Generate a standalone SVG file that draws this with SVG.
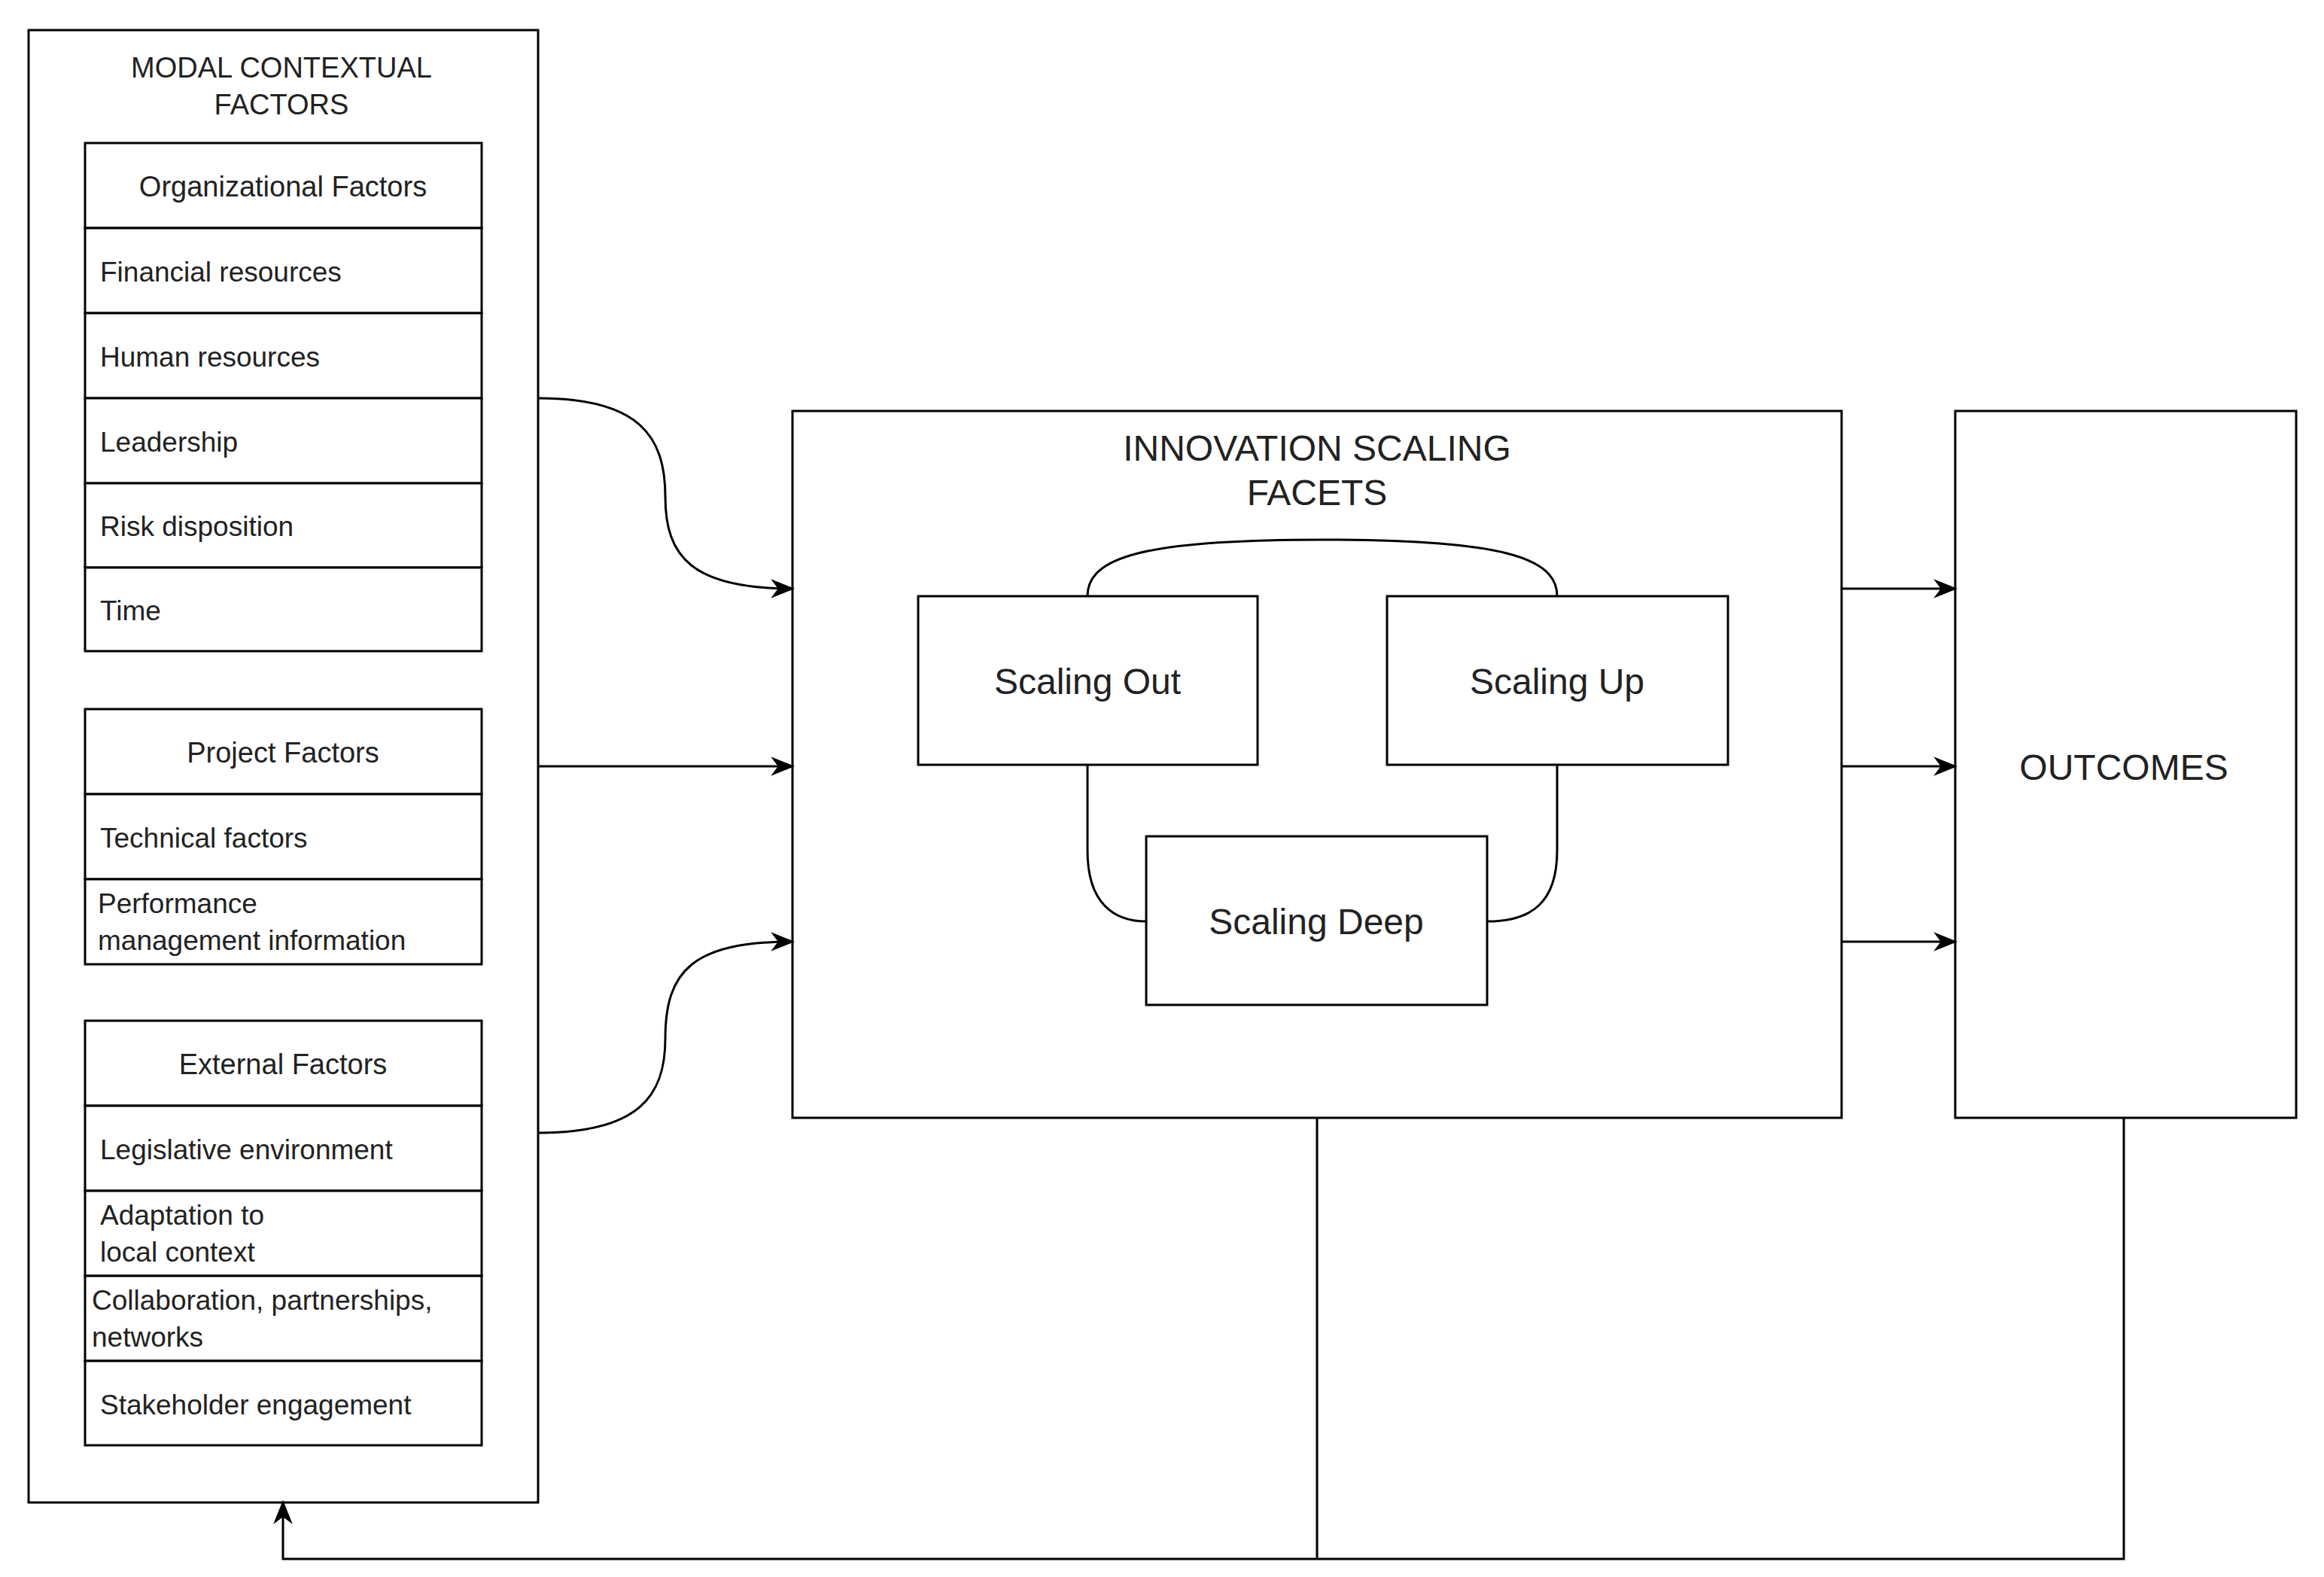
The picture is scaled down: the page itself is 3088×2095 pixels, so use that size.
<svg xmlns="http://www.w3.org/2000/svg" width="3088" height="2095" viewBox="0 0 3088 2095">
<style>
rect{fill:#fff;stroke:#000;stroke-width:3}
.c{fill:none;stroke:#000;stroke-width:3}
text{font-family:"Liberation Sans",Arial,sans-serif;fill:#222}
.s{font-size:37px}
.m{font-size:38px;text-anchor:middle}
.l{font-size:48px;text-anchor:middle}
</style>
<defs><marker id="a" viewBox="0 0 10 10" refX="9" refY="5" markerWidth="10" markerHeight="10" markerUnits="userSpaceOnUse" orient="auto"><path d="M0,0L10,5L0,10L3,5Z" fill="#000" transform="scale(1)"/></marker>
<marker id="b" viewBox="0 0 10 10" refX="9" refY="5" markerWidth="32" markerHeight="32" markerUnits="userSpaceOnUse" orient="auto"><path d="M0,1L10,5L0,9L3,5Z" fill="#000"/></marker></defs>
<g id="modal">
<rect x="38" y="40" width="677" height="1956"/>
<text class="m" x="374" y="103">MODAL CONTEXTUAL</text>
<text class="m" x="374" y="152">FACTORS</text>
</g>
<g id="org">
<rect x="113" y="190" width="527" height="113"/><text class="m" x="376" y="261">Organizational Factors</text>
<rect x="113" y="303" width="527" height="113"/><text class="s" x="133" y="374">Financial resources</text>
<rect x="113" y="416" width="527" height="113"/><text class="s" x="133" y="487">Human resources</text>
<rect x="113" y="529" width="527" height="113"/><text class="s" x="133" y="600">Leadership</text>
<rect x="113" y="642" width="527" height="112"/><text class="s" x="133" y="712">Risk disposition</text>
<rect x="113" y="754" width="527" height="111"/><text class="s" x="133" y="824">Time</text>
</g>
<g id="project">
<rect x="113" y="942" width="527" height="113"/><text class="m" x="376" y="1013">Project Factors</text>
<rect x="113" y="1055" width="527" height="113"/><text class="s" x="133" y="1126">Technical factors</text>
<rect x="113" y="1168" width="527" height="113"/><text class="s" x="130" y="1213">Performance</text><text class="s" x="130" y="1262">management information</text>
</g>
<g id="external">
<rect x="113" y="1356" width="527" height="113"/><text class="m" x="376" y="1427">External Factors</text>
<rect x="113" y="1469" width="527" height="113"/><text class="s" x="133" y="1540">Legislative environment</text>
<rect x="113" y="1582" width="527" height="113"/><text class="s" x="133" y="1627">Adaptation to</text><text class="s" x="133" y="1676">local context</text>
<rect x="113" y="1695" width="527" height="113"/><text class="s" x="122" y="1740">Collaboration, partnerships,</text><text class="s" x="122" y="1789">networks</text>
<rect x="113" y="1808" width="527" height="112"/><text class="s" x="133" y="1879">Stakeholder engagement</text>
</g>
<g id="facets">
<rect x="1053" y="546" width="1394" height="939"/>
<text class="l" x="1750" y="612">INNOVATION SCALING</text>
<text class="l" x="1750" y="671">FACETS</text>
</g>
<g id="out"><rect x="1220" y="792" width="451" height="224"/><text class="l" x="1445" y="922">Scaling Out</text></g>
<g id="up"><rect x="1843" y="792" width="453" height="224"/><text class="l" x="2069" y="922">Scaling Up</text></g>
<g id="deep"><rect x="1523" y="1111" width="453" height="224"/><text class="l" x="1749" y="1241">Scaling Deep</text></g>
<g id="outcomes"><rect x="2598" y="546" width="453" height="939"/><text class="l" x="2822" y="1036">OUTCOMES</text></g>
<g id="connectors">
<path class="c" d="M1445,792 C1445,740 1520,717 1757,717 C1994,717 2069,740 2069,792"/>
<path class="c" d="M1445,1016 L1445,1130 C1445,1200 1480,1224 1523,1224"/>
<path class="c" d="M2069,1016 L2069,1130 C2069,1200 2034,1224 1976,1224"/>
<path class="c" d="M715,529 C850,529 884,580 884,660 C884,740 920,782 1053,782" marker-end="url(#b)"/>
<path class="c" d="M715,1018 L1053,1018" marker-end="url(#b)"/>
<path class="c" d="M715,1505 C850,1505 884,1455 884,1380 C884,1290 920,1251 1053,1251" marker-end="url(#b)"/>
<path class="c" d="M2447,782 L2598,782" marker-end="url(#b)"/>
<path class="c" d="M2447,1018 L2598,1018" marker-end="url(#b)"/>
<path class="c" d="M2447,1251 L2598,1251" marker-end="url(#b)"/>
<path class="c" d="M1750,1485 L1750,2071"/>
<path class="c" d="M2822,1485 L2822,2071 L376,2071 L376,1996" marker-end="url(#b)"/>
</g>
</svg>
